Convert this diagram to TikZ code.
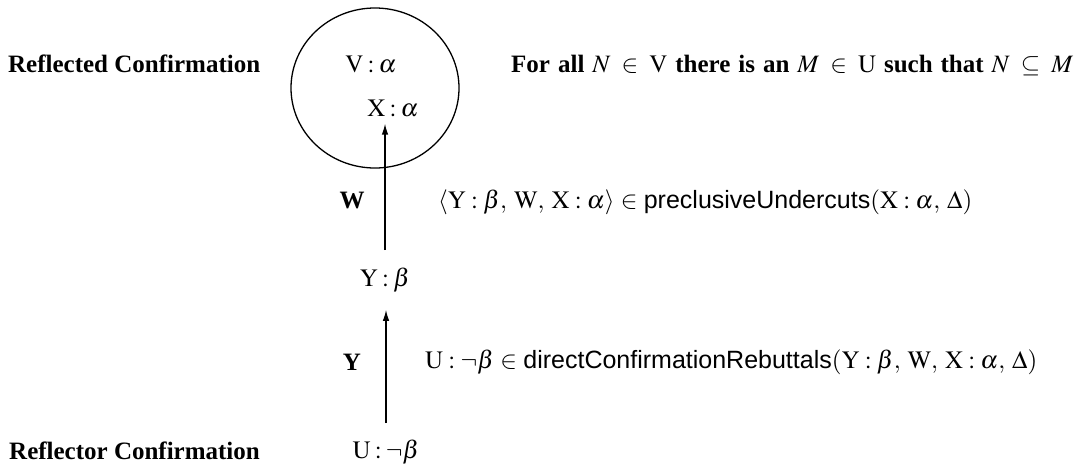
\documentclass[tikz,border=0pt]{standalone}
\usepackage{mathptmx}
\usepackage[no-math]{fontspec}
\setmainfont{Liberation Serif}
\newfontfamily\hv{Liberation Sans}
\usetikzlibrary{arrows.meta,shapes.geometric}
\newcommand\lab[2]{\mathrm{#1}\mskip3mu plus 2mu{:}\mskip3mu plus 2mu #2}
\newcommand\cm{,\mskip0mu plus 8mu}
\tikzset{
  txt/.style={inner sep=0pt, anchor=base, font=\fontsize{25}{30}\selectfont},
  ltxt/.style={inner sep=0pt, anchor=base west, font=\fontsize{25}{30}\selectfont},
  conn/.style={line width=1.3pt, -{Latex[length=11pt,width=6.5pt]}},
  ring/.style={draw, line width=1.3pt, ellipse, minimum width=168pt, minimum height=160pt, inner sep=0pt}
}
\begin{document}
\begin{tikzpicture}[x=1pt,y=1pt]
\useasboundingbox (0,0) rectangle (1076,-469);
\node[ring] (circ) at (375,-88) {};
\node[ltxt] (rc) at (8,-72) {\bfseries Reflected Confirmation};
\node[ltxt] (rr) at (9,-459) {\bfseries Reflector Confirmation};
\node[txt] (va) at (371,-72) {$\lab{V}{\alpha}$};
\node[txt] (xa) at (393,-116) {$\lab{X}{\alpha}$};
\node[txt] (yb) at (385,-286) {$\lab{Y}{\beta}$};
\node[txt] (ub) at (386,-458) {$\lab{U}{\neg\beta}$};
\node[txt] (w) at (352,-208) {\bfseries W};
\node[txt] (y) at (352,-370) {\bfseries Y};
\node[ltxt] (forall) at (511,-72) {\bfseries\spaceskip=0.27em plus 0.2em\thickmuskip=5mu plus 12mu\medmuskip=4mu plus 4mu\makebox[562pt][s]{For all $N \in \mathrm{V}$ there is an $M \in \mathrm{U}$ such that $N \subseteq M$}};
\node[ltxt] (pu) at (438,-208) {\makebox[534pt][s]{$\langle \lab{Y}{\beta}\cm \mathrm{W}\cm \lab{X}{\alpha}\rangle \in \mbox{\hv preclusiveUndercuts}(\lab{X}{\alpha}\cm \Delta)$}};
\node[ltxt] (dr) at (425,-368) {\makebox[612pt][s]{$\lab{U}{\neg\beta} \in \mbox{\hv directConfirmationRebuttals}(\lab{Y}{\beta}\cm \mathrm{W}\cm \lab{X}{\alpha}\cm \Delta)$}};
\draw[conn, shorten <=17pt, shorten >=7pt] (yb.north) -- (yb.north |- xa.south);
\draw[conn, shorten <=16pt, shorten >=18pt] (ub.north) -- (ub.north |- yb.south);
\end{tikzpicture}
\end{document}
